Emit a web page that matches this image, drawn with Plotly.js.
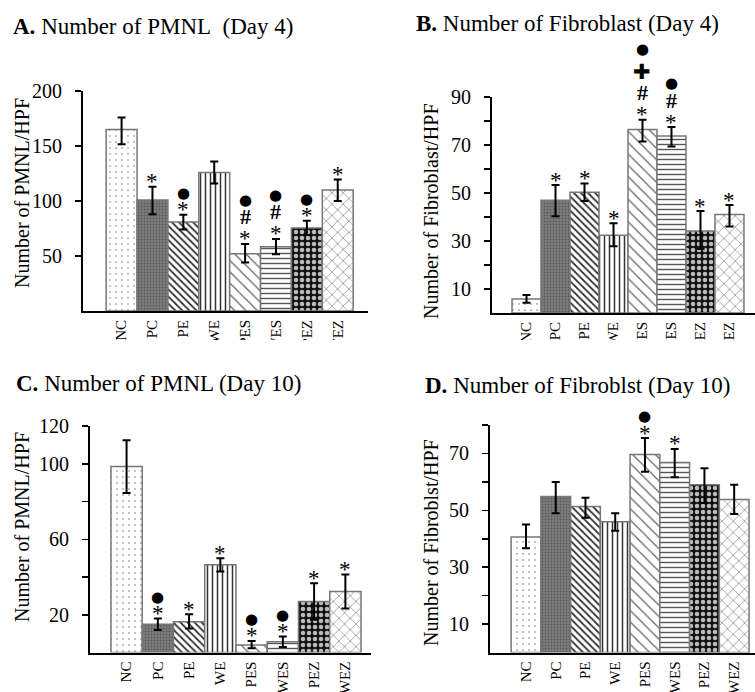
<!DOCTYPE html>
<html>
<head>
<meta charset="utf-8">
<script src="https://cdn.plot.ly/plotly-3.0.1.min.js"></script>
<style>html,body{margin:0;padding:0;background:#fff;}#chart{width:755px;height:692px;}</style>
</head>
<body>
<div id="chart"></div>
<script>
// ---- data ----
const categories = ['NC','PC','PE','WE','PES','WES','PEZ','WEZ'];

const pmnlDay4      = [165, 101, 81, 126, 52, 58.5, 75.5, 110];
const pmnlDay4Plus  = [11, 12, 6.5, 10, 9, 7, 6.5, 9.5];
const pmnlDay4Minus = [13.5, 13, 7, 10, 8, 7, 6.5, 10];
const pmnlDay4Sig   = ['', '*', '*●', '', '*#●', '*#●', '*●', '*'];

const fibDay4       = [5.8, 47, 50.3, 32.4, 76.5, 73.7, 34.2, 41];
const fibDay4Plus   = [1.7, 6.3, 3.7, 5, 4, 3.8, 8.3, 4];
const fibDay4Minus  = [1.5, 6.7, 3.6, 4.6, 5, 4.3, 7.5, 5];
const fibDay4Sig    = ['', '*', '*', '*', '*#+●', '*#●', '*', '*'];

const pmnlDay10      = [98.5, 15, 16.3, 46.5, 4, 5.7, 27, 32.4];
const pmnlDay10Plus  = [14, 3, 4, 3.5, 2.2, 2.8, 9.7, 9];
const pmnlDay10Minus = [14, 3, 3.5, 3.5, 1.7, 2.7, 9.6, 9];
const pmnlDay10Sig   = ['', '*●', '*', '*', '*●', '*●', '*', '*'];

const fibDay10       = [40.6, 54.9, 51.3, 46, 69.6, 66.8, 59, 53.8];
const fibDay10Plus   = [4.4, 5.1, 3.1, 3, 5.8, 4.8, 5.8, 5.2];
const fibDay10Minus  = [3.9, 5.9, 3.9, 3.2, 6, 5.2, 6.4, 5.1];
const fibDay10Sig    = ['', '', '', '', '*●', '*', '', ''];

const yTicksA = [50, 100, 150, 200];
const yTicksB = [10, 20, 30, 40, 50, 60, 70, 80, 90];
const yTextB  = ['10', '', '30', '', '50', '', '70', '', '90'];
const yTicksC = [20, 40, 60, 80, 100, 120];
const yTextC  = ['20', '', '60', '', '100', '120'];
const yTicksD = [10, 20, 30, 40, 50, 60, 70, 80];
const yTextD  = ['10', '', '30', '', '50', '', '70', ''];

// ---- styling ----
const W = 755, H = 692;
const px = x => x / W;
const py = y => 1 - y / H;
const SERIF = 'Liberation Serif, Times New Roman, serif';

const patterns = [
  {shape: '.', fgcolor: '#777', bgcolor: '#fff', size: 6, solidity: 0.06},
  {shape: '.', fgcolor: '#5a5a5a', bgcolor: '#7c7c7c', size: 3, solidity: 0.3},
  {shape: '\\', fgcolor: '#333', bgcolor: '#fff', size: 5, solidity: 0.35},
  {shape: '|', fgcolor: '#333', bgcolor: '#fff', size: 5, solidity: 0.3},
  {shape: '\\', fgcolor: '#666', bgcolor: '#fff', size: 8, solidity: 0.16},
  {shape: '-', fgcolor: '#555', bgcolor: '#fff', size: 5, solidity: 0.28},
  {shape: '.', fgcolor: '#bbb', bgcolor: '#111', size: 6, solidity: 0.45},
  {shape: 'x', fgcolor: '#555', bgcolor: '#fff', size: 8, solidity: 0.12}
];

function barTrace(vals, plus, minus, xa, ya) {
  return {
    type: 'bar', x: categories, y: vals, xaxis: xa, yaxis: ya,
    width: 1,
    marker: {
      color: '#fff',
      line: {color: '#777', width: 1.5},
      pattern: {
        shape: patterns.map(p => p.shape),
        fgcolor: patterns.map(p => p.fgcolor),
        bgcolor: patterns.map(p => p.bgcolor),
        size: patterns.map(p => p.size),
        solidity: patterns.map(p => p.solidity),
        fillmode: 'replace'
      }
    },
    error_y: {type: 'data', symmetric: false, array: plus, arrayminus: minus,
              color: '#000', thickness: 2, width: 4},
    hoverinfo: 'none', showlegend: false
  };
}

const symFont = {
  '*': {family: SERIF, size: 23},
  '#': {family: SERIF, size: 22},
  '●': {family: 'DejaVu Sans', size: 15},
  '+': {family: 'DejaVu Sans', size: 21}
};
const symText = {'*': '*', '#': '<b>#</b>', '●': '●', '+': '✚'};
const symCorr = {'*': -4, '#': 0, '●': 0, '+': 0};
const symGap = {'*●': 13, '*#': 18, '#●': 17, '#+': 21, '+●': 23};

function sigAnnotations(vals, plus, sig, xr, yr) {
  const out = [];
  sig.forEach((s, i) => {
    let off = 0;
    const chars = Array.from(s);
    chars.forEach((c, k) => {
      if (k === 0) off = 9;
      else off += symGap[chars[k - 1] + c] || 17;
      out.push({
        xref: xr, yref: yr, x: categories[i], y: vals[i] + plus[i],
        text: symText[c], showarrow: false, yanchor: 'middle', xanchor: 'center',
        yshift: off + symCorr[c], font: Object.assign({color: '#000'}, symFont[c])
      });
    });
  });
  return out;
}

function panelTitle(letter, rest, x, y) {
  return {xref: 'paper', yref: 'paper', x: px(x), y: py(y), xanchor: 'left', yanchor: 'middle',
          showarrow: false, text: '<b>' + letter + '</b> ' + rest,
          font: {family: SERIF, size: 23, color: '#000'}};
}
function yTitle(text, x, y) {
  return {xref: 'paper', yref: 'paper', x: px(x), y: py(y), xanchor: 'center', yanchor: 'middle',
          showarrow: false, text: text, textangle: -90,
          font: {family: SERIF, size: 20, color: '#000'}};
}

function xAxis(dom, range, anchor) {
  return {domain: dom, range: range, anchor: anchor, type: 'category',
          showline: true, linecolor: '#000', linewidth: 2, showgrid: false, zeroline: false,
          ticks: '', tickangle: -90, ticklabelstandoff: 1,
          tickfont: {family: SERIF, size: 15, color: '#000'}, fixedrange: true};
}
function yAxis(dom, range, anchor, vals, text) {
  return {domain: dom, range: range, anchor: anchor,
          showline: true, linecolor: '#000', linewidth: 2, showgrid: false, zeroline: false,
          ticks: 'outside', ticklen: 6, tickwidth: 1.5, tickcolor: '#000',
          tickmode: 'array', tickvals: vals, ticktext: text || vals.map(String),
          ticklabelstandoff: 9,
          tickfont: {family: SERIF, size: 20, color: '#000'}, fixedrange: true};
}

const data = [
  barTrace(pmnlDay4, pmnlDay4Plus, pmnlDay4Minus, 'x', 'y'),
  barTrace(fibDay4, fibDay4Plus, fibDay4Minus, 'x2', 'y2'),
  barTrace(pmnlDay10, pmnlDay10Plus, pmnlDay10Minus, 'x3', 'y3'),
  barTrace(fibDay10, fibDay10Plus, fibDay10Minus, 'x4', 'y4')
];

const annotations = [].concat(
  sigAnnotations(pmnlDay4, pmnlDay4Plus, pmnlDay4Sig, 'x', 'y'),
  sigAnnotations(fibDay4, fibDay4Plus, fibDay4Sig, 'x2', 'y2'),
  sigAnnotations(pmnlDay10, pmnlDay10Plus, pmnlDay10Sig, 'x3', 'y3'),
  sigAnnotations(fibDay10, fibDay10Plus, fibDay10Sig, 'x4', 'y4'),
  [
    panelTitle('A.', 'Number of PMNL&nbsp; (Day 4)', 11, 26),
    panelTitle('B.', 'Number of Fibroblast (Day 4)', 414, 24),
    panelTitle('C.', 'Number of PMNL (Day 10)', 14, 384),
    panelTitle('D.', 'Number of Fibroblst (Day 10)', 423, 385),
    yTitle('Number of PMNL/HPF', 22, 193),
    yTitle('Number of Fibroblast/HPF', 431, 211),
    yTitle('Number of PMNL/HPF', 22, 527),
    yTitle('Number of Fibroblst/HPF', 431, 542)
  ]
);

const layout = {
  width: W, height: H,
  margin: {l: 0, r: 0, t: 0, b: 0},
  paper_bgcolor: '#fff', plot_bgcolor: 'rgba(0,0,0,0)',
  showlegend: false, bargap: 0,
  font: {family: SERIF, color: '#000'},
  xaxis:  xAxis([px(83), px(368)], [-1.25, 7.98], 'y'),
  yaxis:  yAxis([py(311), py(91)], [0, 200], 'x', yTicksA),
  xaxis2: xAxis([px(492), 1], [-1.19, 7.88], 'y2'),
  yaxis2: yAxis([py(313), py(97)], [0, 90], 'x2', yTicksB, yTextB),
  xaxis3: xAxis([px(90), px(371)], [-1.17, 7.82], 'y3'),
  yaxis3: yAxis([py(652.6), py(426)], [0, 120], 'x3', yTicksC, yTextC),
  xaxis4: xAxis([px(490), 1], [-1.21, 7.70], 'y4'),
  yaxis4: yAxis([py(652.5), py(425)], [0, 80], 'x4', yTicksD, yTextD),
  annotations: annotations,
  shapes: [
    {type: 'rect', xref: 'paper', yref: 'paper', x0: 0, x1: 1, y0: py(362), y1: py(340),
     fillcolor: '#fff', line: {width: 0}, layer: 'above'}
  ]
};

Plotly.newPlot('chart', data, layout, {staticPlot: true, displayModeBar: false});
</script>
</body>
</html>
